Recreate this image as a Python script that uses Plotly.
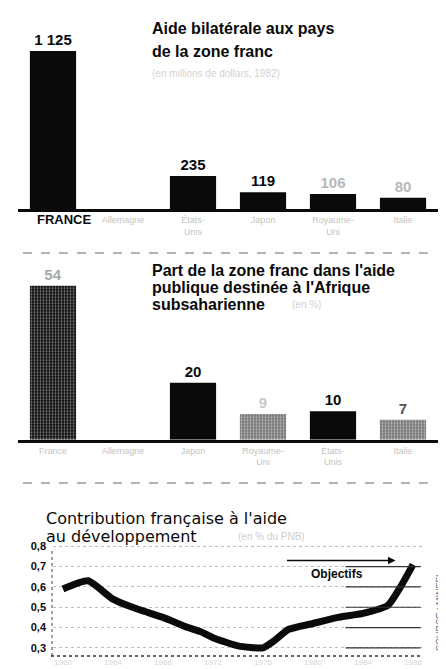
import plotly.graph_objects as go

W, H = 446, 669

# ---- data ----
cats1 = ["France", "Allemagne", "États-Unis", "Japon", "Royaume-Uni", "Italie"]
vals1 = [1125, 0, 235, 119, 106, 80]
labels1 = ["1 125", "", "235", "119", "106", "80"]

cats2 = ["France", "Allemagne", "Japon", "Royaume-Uni", "États-Unis", "Italie"]
vals2 = [54, 0, 20, 9, 10, 7]
labels2 = ["54", "", "20", "9", "10", "7"]

years3 = [1960, 1962, 1964, 1966, 1968, 1970, 1971, 1972, 1974, 1976,
          1977, 1978, 1980, 1982, 1984, 1986, 1987, 1988]
vals3 = [0.59, 0.63, 0.54, 0.49, 0.45, 0.40, 0.38, 0.35, 0.31, 0.30,
         0.34, 0.39, 0.42, 0.45, 0.47, 0.51, 0.60, 0.71]
objective3 = 0.73
ticks3 = [0.3, 0.4, 0.5, 0.6, 0.7, 0.8]
ticklabels3 = ["0,3", "0,4", "0,5", "0,6", "0,7", "0,8"]
xticks3 = [1960, 1964, 1968, 1972, 1976, 1980, 1984, 1988]

FONT = "Liberation Sans, Arial, sans-serif"
FAINT = "#c4c4c4"
INK = "#0a0a0a"

def py(p):  # pixel y -> paper fraction
    return 1 - p / H

def px(p):
    return p / W

fig = go.Figure()

# panel 1
fig.add_trace(go.Bar(
    x=cats1, y=vals1, text=labels1, texttemplate="<b>%{text}</b>",
    textposition="outside", cliponaxis=False,
    textfont=dict(color=[INK, INK, INK, INK, "#b8b8b8", "#b8b8b8"], size=15, family=FONT),
    marker=dict(color=INK, line=dict(width=0)),
    xaxis="x", yaxis="y", showlegend=False, hoverinfo="skip"))

# panel 2
fig.add_trace(go.Bar(
    x=cats2, y=vals2, text=labels2, texttemplate="<b>%{text}</b>",
    textposition="outside", cliponaxis=False,
    textfont=dict(color=["#a8a8a8", INK, INK, "#c8c8c8", INK, "#555"], size=15, family=FONT),
    marker=dict(color=["#111111", INK, INK, "#7a7a7a", INK, "#7a7a7a"],
                line=dict(width=0),
                pattern=dict(shape=[".", "", "", ".", "", "."],
                             fgcolor=["#4a4a4a", INK, INK, "#111", INK, "#111"],
                             size=3, solidity=0.3)),
    xaxis="x2", yaxis="y2", showlegend=False, hoverinfo="skip"))

# panel 3
fig.add_trace(go.Scatter(
    x=years3, y=vals3, mode="lines",
    line=dict(color=INK, width=7, shape="spline", smoothing=0.5),
    xaxis="x3", yaxis="y3", showlegend=False, hoverinfo="skip"))

tick1 = ["", "Allemagne", "États-<br>Unis", "Japon", "Royaume-<br>Uni", "Italie"]
tick2 = ["France", "Allemagne", "Japon", "Royaume-<br>Uni", "États-<br>Unis", "Italie"]

common_x = dict(showgrid=False, zeroline=False, showline=True, linecolor=INK, linewidth=3,
                ticks="", tickfont=dict(size=9, color=FAINT, family=FONT), fixedrange=True)

base3 = 648.0
fig.update_layout(
    width=W, height=H, paper_bgcolor="white", plot_bgcolor="white",
    margin=dict(l=0, r=0, t=0, b=0), bargap=0.34, separators=", ",
    font=dict(family=FONT),
    xaxis=dict(domain=[px(10), px(430)], tickvals=cats1, ticktext=tick1,
               range=[-0.5, 5.5], anchor="y", **common_x),
    yaxis=dict(domain=[py(201), py(25.5)], range=[0, 1250], visible=False, anchor="x"),
    xaxis2=dict(domain=[px(10), px(430)], tickvals=cats2, ticktext=tick2,
                range=[-0.5, 5.5], anchor="y2", **common_x),
    yaxis2=dict(domain=[py(431.7), py(260.7)], range=[0, 60], visible=False, anchor="x2"),
    xaxis3=dict(domain=[px(45), px(415)], range=[1959.2, 1988.8], anchor="y3",
                showgrid=False, zeroline=False, showline=False, tickvals=xticks3,
                tickfont=dict(size=8, color="#d6d6d6", family=FONT), ticks=""),
    yaxis3=dict(domain=[py(base3), py(base3 - 115.8)], range=[0.26, 0.83], anchor="x3",
                tickvals=ticks3, ticktext=[f"<b>{t}</b>" for t in ticklabels3],
                showgrid=True, gridcolor="#bdbdbd",
                griddash="dot", gridwidth=1, zeroline=False, showline=False,
                tickfont=dict(size=11, color=INK, family=FONT),
                ticks="", ticklabelstandoff=6),
)

# titles (one annotation per line)
def txt(x, y, s, size=16, color=INK, bold=True, family=FONT, xanchor="left", angle=0):
    fig.add_annotation(xref="paper", yref="paper", x=px(x), y=py(y), text=(f"<b>{s}</b>" if bold else s),
                       showarrow=False, xanchor=xanchor, yanchor="middle", textangle=angle,
                       font=dict(size=size, color=color, family=family))

# handwritten-like FRANCE label
txt(56, 212, "FRANCE", size=13, xanchor="center")

txt(142, 21, "Aide bilatérale aux pays")
txt(142, 43, "de la zone franc")
txt(142, 66, "(en millions de dollars, 1982)", size=10, color="#d2d2d2", bold=False)

txt(142, 262, "Part de la zone franc dans l'aide")
txt(142, 280, "publique destinée à l'Afrique")
txt(142, 297, "subsaharienne", size=16)
txt(282, 297, "(en %)", size=10, color="#d2d2d2", bold=False)

txt(36, 510, "Contribution française à l'aide", size=16, bold=False, family="DejaVu Sans, sans-serif")
txt(36, 528, "au développement", size=16, bold=False, family="DejaVu Sans, sans-serif")
txt(228, 528, "(en % du PNB)", size=10, color="#cfcfcf", bold=False)

# separators
for yy in (245, 475):
    fig.add_shape(type="line", xref="paper", yref="paper", x0=px(15), x1=px(425),
                  y0=py(yy), y1=py(yy), line=dict(color="#666", width=1, dash="dash"))

# panel 3 axes decorations
fig.add_shape(type="line", xref="paper", yref="paper", x0=px(43), x1=px(415),
              y0=py(base3), y1=py(base3), line=dict(color="#333", width=1.5, dash="dot"))
fig.add_shape(type="line", xref="paper", yref="paper", x0=px(44), x1=px(44),
              y0=py(base3), y1=py(base3 - 106), line=dict(color="#444", width=1, dash="dot"))
for v in ticks3[:-1]:
    fig.add_shape(type="line", xref="x3", yref="y3", x0=1982.6, x1=1988.6, y0=v, y1=v,
                  line=dict(color="#333", width=1.2))

# objectives arrow
fig.add_annotation(xref="x3", yref="y3", axref="x3", ayref="y3",
                   x=1986.6, y=objective3, ax=1977.8, ay=objective3,
                   showarrow=True, arrowhead=2, arrowsize=1, arrowwidth=1.5,
                   arrowcolor=INK, text="")
fig.add_annotation(xref="x3", yref="y3", x=1981.9, y=0.665, text="<b>Objectifs</b>",
                   showarrow=False, font=dict(size=12, color=INK, family=FONT))

# source
txt(431, 605, "SOURCE : MINEFI", size=9, color="#666", bold=False, xanchor="center", angle=-90)

fig.write_html("out.html")
